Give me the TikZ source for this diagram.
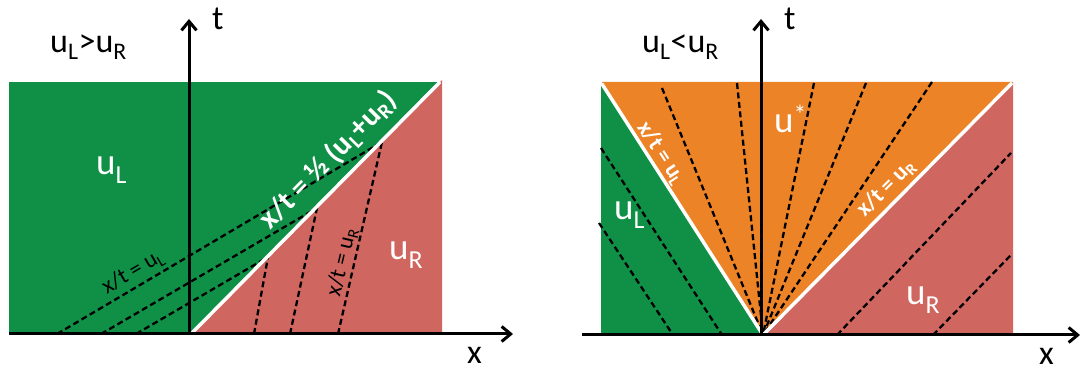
\documentclass[tikz,border=0pt]{standalone}
\usepackage{fontspec}
\setmainfont{Carlito}
\usetikzlibrary{arrows.meta}
\definecolor{cgreen}{RGB}{16,143,70}
\definecolor{cred}{RGB}{208,102,96}
\definecolor{corange}{RGB}{236,131,38}
\begin{document}
\begin{tikzpicture}[x=1pt,y=-1pt,
 axis/.style={line width=3pt,-{Straight Barb[length=9pt,width=15pt,line width=3pt]}},
 charline/.style={line width=2.3pt,dash pattern=on 6pt off 3.5pt},
 front/.style={white,line width=3.5pt},
 lbl/.style={inner sep=0pt,anchor=base west,font=\fontsize{34}{38}\selectfont},
 reg/.style={inner sep=0pt,anchor=base west,text=white,font=\fontsize{37}{40}\selectfont},
 small/.style={inner sep=0pt,font=\fontsize{23}{25}\selectfont},
]
\useasboundingbox (0,0) rectangle (1082,371);
% ---------------- left panel ----------------
\coordinate (LO) at (190,334);
\coordinate (LS) at (440,82);
\fill[cgreen] (9,82) rectangle (442,334);
\fill[cred] (LO) -- (442,80) -- (442,334) -- cycle;
\coordinate (s1) at (382,142);
\coordinate (s2) at (317,208);
\coordinate (s3) at (268,257);
\coordinate (g1) at (57,334);
\coordinate (g2) at (101,334);
\coordinate (g3) at (136,334);
\coordinate (r1) at (338,334);
\coordinate (r2) at (290,334);
\coordinate (r3) at (254,334);
\draw[charline] (g1) -- (s1);
\draw[charline] (g2) -- (s2);
\draw[charline] (g3) -- (s3);
\draw[charline] (r1) -- (s1);
\draw[charline] (r2) -- (s2);
\draw[charline] (r3) -- (s3);
\draw[front] (191,334) -- (LS);
\coordinate (LtB) at (189,334);
\coordinate (LtT) at (189,19);
\coordinate (LxB) at (9,334);
\coordinate (LxT) at (513,334);
\draw[axis] (LtB) -- (LtT);
\draw[axis] (LxB) -- (LxT);
\node[lbl] (lt) at (212,30) {t};
\node[lbl] (lx) at (467,363) {x};
\node[lbl] (ltitle) at (50,53) {u\textsubscript{L}>u\textsubscript{R}};
\node[reg] (luL) at (96,175) {u\textsubscript{L}};
\node[reg] (luR) at (389,260) {u\textsubscript{R}};
\node[inner sep=0pt,text=white,rotate=45.3,font=\fontsize{30}{32}\selectfont\bfseries] (shock) at (328,160) {x/t = ½ (u\textsubscript{L}+u\textsubscript{R})};
\node[small,rotate=30.4] (luLline) at (133,272) {x/t = u\textsubscript{L}};
\node[small,rotate=76.5] (luRline) at (342,262) {x/t = u\textsubscript{R}};
% ---------------- right panel ----------------
\coordinate (RO) at (763,335);
\fill[corange] (602,82) -- (1013,82) -- (RO) -- cycle;
\fill[cgreen] (601,84) -- (RO) -- (601,335) -- cycle;
\fill[cred] (1013,82) -- (1013,335) -- (RO) -- cycle;
\coordinate (f1) at (662,88);
\coordinate (f2) at (737,83);
\coordinate (f3) at (814,83);
\coordinate (f4) at (866,83);
\coordinate (f5) at (932,82);
\foreach \f in {f1,f2,f3,f4,f5} \draw[charline] (\f) -- (RO);
\coordinate (a1) at (601,148);
\coordinate (a2) at (722,335);
\coordinate (b1) at (599,223);
\coordinate (b2) at (673,335);
\draw[charline] (a1) -- (a2);
\draw[charline] (b1) -- (b2);
\coordinate (c1) at (837,335);
\coordinate (c2) at (1011,153);
\coordinate (d1) at (933,335);
\coordinate (d2) at (1011,255);
\draw[charline] (c1) -- (c2);
\draw[charline] (d1) -- (d2);
\coordinate (RL) at (602,84);
\coordinate (RR) at (1012,83);
\draw[front] (RL) -- (RO);
\draw[front] (RO) -- (RR);
\coordinate (RtB) at (761,335);
\coordinate (RtT) at (761,19);
\coordinate (RxB) at (582,335);
\coordinate (RxT) at (1080,335);
\draw[axis] (RtB) -- (RtT);
\draw[axis] (RxB) -- (RxT);
\node[lbl] (rt) at (784,30) {t};
\node[lbl] (rx) at (1039,364) {x};
\node[lbl] (rtitle) at (642,53) {u\textsubscript{L}<u\textsubscript{R}};
\node[reg] (ruS) at (774,133) {u\textsuperscript{*}};
\node[reg] (ruL) at (614,220) {u\textsubscript{L}};
\node[reg] (ruR) at (906,305) {u\textsubscript{R}};
\node[small,text=white,rotate=-56.8,font=\fontsize{23}{25}\selectfont\bfseries] (rlabL) at (661,153) {x/t = u\textsubscript{L}};
\node[small,text=white,rotate=45,font=\fontsize{23}{25}\selectfont\bfseries] (rlabR) at (886,188) {x/t = u\textsubscript{R}};
\end{tikzpicture}
\end{document}
